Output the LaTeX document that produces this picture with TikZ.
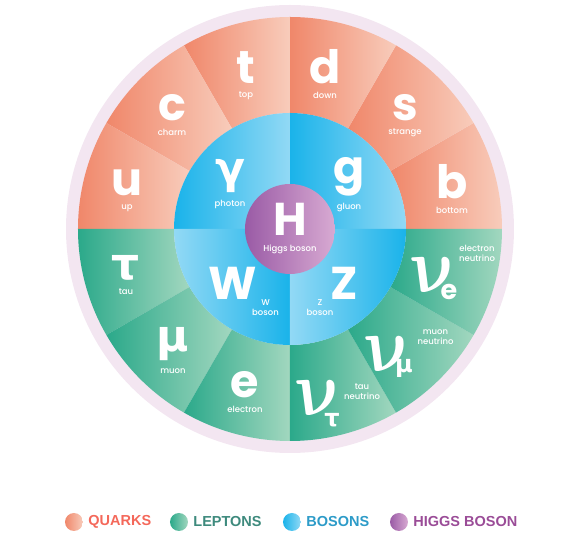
\documentclass[tikz,border=0pt]{standalone}
\usepackage{fontspec}
\setmainfont{Poppins}
\newfontfamily\labelfont{Poppins Medium}
\newfontfamily\greekfont{DejaVu Sans}
\newfontfamily\legendfont{Liberation Sans}
\usetikzlibrary{calc, positioning}

\definecolor{ringpink}{HTML}{F3E6F1}
\definecolor{quarkdark}{HTML}{F0876A}
\definecolor{quarklight}{HTML}{F8CCBB}
\definecolor{leptondark}{HTML}{2BA98A}
\definecolor{leptonlight}{HTML}{A2D7BF}
\definecolor{bosondark}{HTML}{1AB3EA}
\definecolor{bosonlight}{HTML}{92D9F5}
\definecolor{higgsdark}{HTML}{9A5BA6}
\definecolor{higgslight}{HTML}{D8AAD2}
\definecolor{quarktext}{HTML}{F4685A}
\definecolor{leptontext}{HTML}{3E8A7D}
\definecolor{bosontext}{HTML}{2D9BC8}
\definecolor{higgstext}{HTML}{9A4C97}

\newcommand{\bignu}{\scalebox{7}[7.8]{\boldmath$\nu$}}

\tikzset{
  bigsym/.style={text=white, inner sep=0pt, font=\fontsize{46}{46}\selectfont\bfseries},
  greeksym/.style={text=white, inner sep=0pt, font=\greekfont\bfseries\fontsize{44}{44}\selectfont},
  nusym/.style={text=white, inner sep=0pt},
  subsym/.style={text=white, inner sep=0pt, font=\fontsize{27}{27}\selectfont\bfseries},
  subgreek/.style={text=white, inner sep=0pt, font=\greekfont\bfseries\fontsize{24}{24}\selectfont},
  partname/.style={text=white, inner sep=0pt, align=center, font=\labelfont\fontsize{8.5}{10}\selectfont},
  legenddot/.style={circle, minimum size=18pt, inner sep=0pt},
  legendtext/.style={anchor=west, inner sep=0pt, font=\legendfont\bfseries\fontsize{14.5}{15}\selectfont},
}

\begin{document}
\begin{tikzpicture}[x=1pt, y=1pt]
\useasboundingbox (-290,-316) rectangle (286,229);
% outer ring
\fill[ringpink] (0,0) circle[radius=224];
% quarks (top) and leptons (bottom)
\foreach \a in {0,30,...,150} {
  \shade[left color=quarkdark, right color=quarklight] (\a:116) arc[start angle=\a, end angle=\a+30, radius=116]
    -- (\a+30:212) arc[start angle=\a+30, end angle=\a, radius=212] -- cycle;
}
\foreach \a in {180,210,...,330} {
  \shade[left color=leptondark, right color=leptonlight] (\a:116) arc[start angle=\a, end angle=\a+30, radius=116]
    -- (\a+30:212) arc[start angle=\a+30, end angle=\a, radius=212] -- cycle;
}
% bosons
\foreach \a/\lc/\rc in {0/bosondark/bosonlight, 90/bosondark/bosonlight, 180/bosonlight/bosondark, 270/bosonlight/bosondark} {
  \shade[left color=\lc, right color=\rc] (0,0) -- (\a:116) arc[start angle=\a, end angle=\a+90, radius=116] -- cycle;
}
% higgs
\shade[left color=higgsdark, right color=higgslight] (0,0) circle[radius=45];

\foreach \x/\y/\s/\n [count=\i] in {-163/46/u/up, -118/121.5/c/charm, -44/161.5/t/top,
    35/162/d/down, 115/121.5/s/strange, 162/47.5/b/bottom} {
  \node[bigsym] (q\i) at (\x,\y) {\s};
  \node[partname, below=8pt of q\i] (q\i-name) {\n};
}
\foreach \x/\y/\s/\n [count=\i] in {-164/-38.5/τ/tau, -117/-115/μ/muon} {
  \node[greeksym] (l\i) at (\x,\y) {\s};
  \node[partname, below=8pt of l\i] (l\i-name) {\n};
}
\node[bigsym] (l3) at (-45,-155.5) {e};
\node[partname, below=8pt of l3] (l3-name) {electron};

\node[greeksym] (photon) at (-60,52.5) {γ};
\node[partname, below=7pt of photon] (photon-name) {photon};
\node[bigsym] (gluon) at (59,52.5) {g};
\node[partname, below=7pt of gluon] (gluon-name) {gluon};
\node[bigsym] (wbos) at (-57.5,-54.5) {W};
\node[partname] (wbos-name) at (-24.5,-79) {W\\boson};
\node[bigsym] (zbos) at (54,-54) {Z};
\node[partname] (zbos-name) at (30,-79) {Z\\boson};
\node[bigsym] (higgs) at (0,10) {H};
\node[partname, below=9pt of higgs] (higgs-name) {Higgs boson};

% neutrinos
\foreach \x/\y/\n in {145/-46/nue, 99/-125/numu, 30/-169/nutau} {
  \begin{scope}[shift={(\x,\y)}, xslant=-0.35]
    \node[nusym, transform shape] (\n) at (0,0) {\bignu};
  \end{scope}
}
\node[subsym] (nue-sub) at (159,-63) {e};
\node[partname] (nue-name) at (187,-24) {electron\\neutrino};
\node[subgreek] (numu-sub) at (114,-139) {μ};
\node[partname] (numu-name) at (145.5,-108) {muon\\neutrino};
\node[subgreek] (nutau-sub) at (42,-191) {τ};
\node[partname] (nutau-name) at (72,-163) {tau\\neutrino};

% legend
\foreach \x/\c/\t [count=\i] in {-216/quark/QUARKS, -111/lepton/LEPTONS, 2/boson/BOSONS, 109/higgs/HIGGS BOSON} {
  \node[legenddot, left color=\c dark, right color=\c light] (dot\i) at (\x,-293) {};
  \node[legendtext, text=\c text, right=5pt of dot\i] (key\i) {\t};
}
\end{tikzpicture}
\end{document}
